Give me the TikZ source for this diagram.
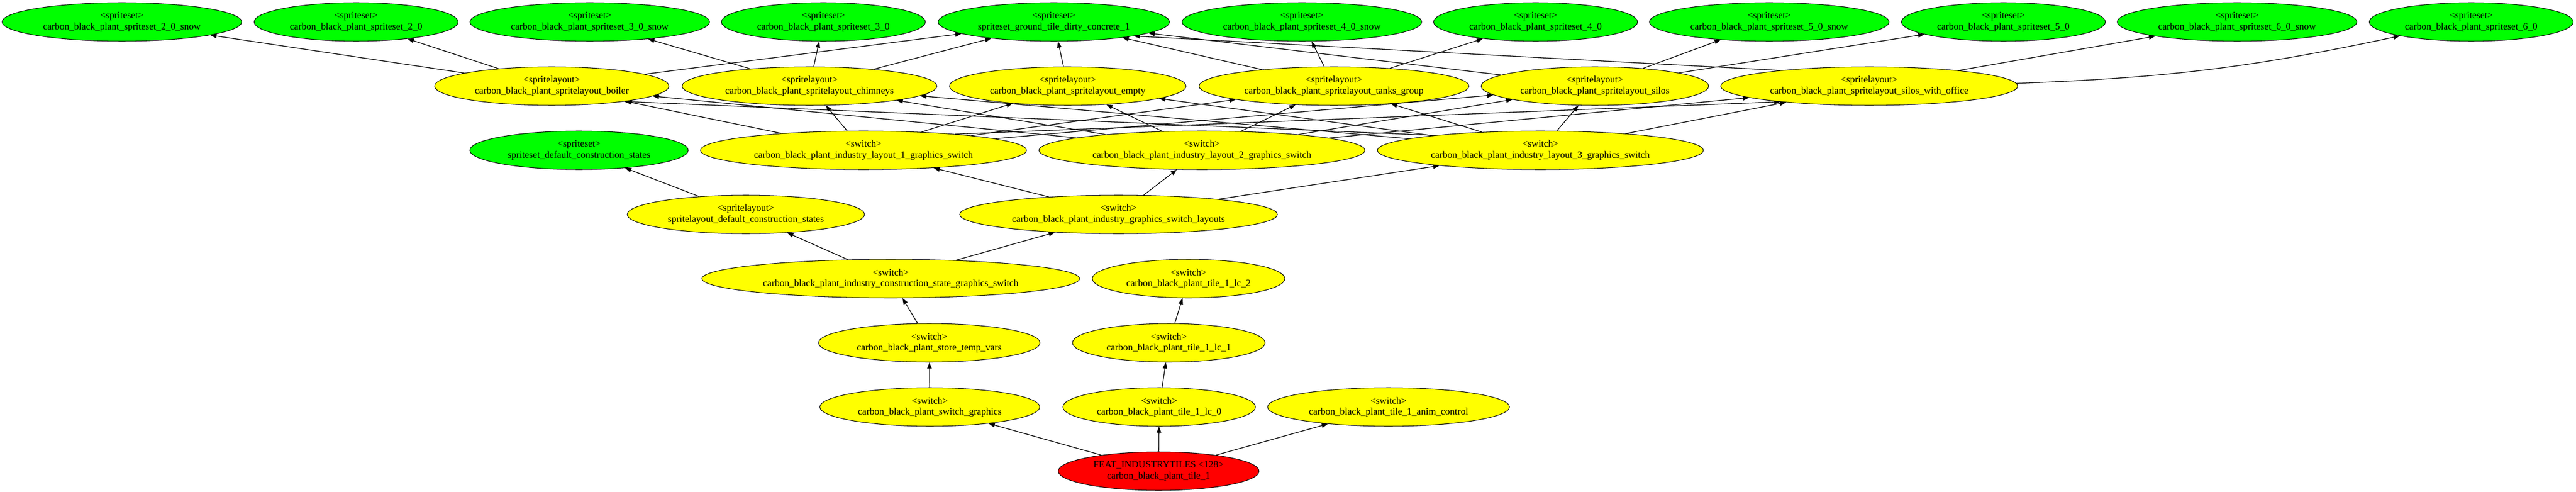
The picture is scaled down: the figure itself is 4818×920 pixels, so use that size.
\documentclass[tikz,border=0pt]{standalone}
\usepackage{fontspec}
\setmainfont{Liberation Serif}
\usetikzlibrary{arrows.meta}
\usetikzlibrary{shapes.geometric}
\usetikzlibrary{backgrounds}
\definecolor{setgreen}{RGB}{0,255,0}
\definecolor{switchyellow}{RGB}{255,255,0}
\definecolor{rootred}{RGB}{255,0,0}

\begin{document}
\begin{tikzpicture}[
  x=0.775pt, y=-0.775pt,
  > = {Triangle[length=9pt,width=6.5pt]},
  every node/.style = {ellipse,draw,line width=0.8pt,align=center,
    font=\fontsize{14}{16}\selectfont,inner xsep=8.5pt,inner ysep=1pt,minimum height=55.8pt},
  spritesetnode/.style = {fill=setgreen},
  switchnode/.style = {fill=switchyellow},
  rootnode/.style = {fill=rootred},
  link/.style = {->,line width=1pt}
  ]
	\useasboundingbox (0,0) rectangle (4818,920);

	% spritesets
	\node[spritesetnode] (ss20snow) at (228,41) {<spriteset>\\carbon\_black\_plant\_spriteset\_2\_0\_snow};
	\node[spritesetnode] (ss20) at (666,41) {<spriteset>\\carbon\_black\_plant\_spriteset\_2\_0};
	\node[spritesetnode] (ss30snow) at (1103,41) {<spriteset>\\carbon\_black\_plant\_spriteset\_3\_0\_snow};
	\node[spritesetnode] (ss30) at (1540,41) {<spriteset>\\carbon\_black\_plant\_spriteset\_3\_0};
	\node[spritesetnode] (ssconcrete) at (1971,41) {<spriteset>\\spriteset\_ground\_tile\_dirty\_concrete\_1};
	\node[spritesetnode] (ss40snow) at (2435,41) {<spriteset>\\carbon\_black\_plant\_spriteset\_4\_0\_snow};
	\node[spritesetnode] (ss40) at (2872,41) {<spriteset>\\carbon\_black\_plant\_spriteset\_4\_0};
	\node[spritesetnode] (ss50snow) at (3309,41) {<spriteset>\\carbon\_black\_plant\_spriteset\_5\_0\_snow};
	\node[spritesetnode] (ss50) at (3747,41) {<spriteset>\\carbon\_black\_plant\_spriteset\_5\_0};
	\node[spritesetnode] (ss60snow) at (4184,41) {<spriteset>\\carbon\_black\_plant\_spriteset\_6\_0\_snow};
	\node[spritesetnode] (ss60) at (4622,41) {<spriteset>\\carbon\_black\_plant\_spriteset\_6\_0};

	% spritelayouts
	\node[switchnode] (slboiler) at (1032,161) {<spritelayout>\\carbon\_black\_plant\_spritelayout\_boiler};
	\node[switchnode] (slchimneys) at (1514,161) {<spritelayout>\\carbon\_black\_plant\_spritelayout\_chimneys};
	\node[switchnode] (slempty) at (1997,161) {<spritelayout>\\carbon\_black\_plant\_spritelayout\_empty};
	\node[switchnode] (sltanks) at (2495,161) {<spritelayout>\\carbon\_black\_plant\_spritelayout\_tanks\_group};
	\node[switchnode] (slsilos) at (2983,161) {<spritelayout>\\carbon\_black\_plant\_spritelayout\_silos};
	\node[switchnode] (sloffice) at (3496,161) {<spritelayout>\\carbon\_black\_plant\_spritelayout\_silos\_with\_office};

	\node[spritesetnode] (ssdefault) at (1083,281) {<spriteset>\\spriteset\_default\_construction\_states};
	\node[switchnode] (lay1) at (1615,281) {<switch>\\carbon\_black\_plant\_industry\_layout\_1\_graphics\_switch};
	\node[switchnode] (lay2) at (2248,281) {<switch>\\carbon\_black\_plant\_industry\_layout\_2\_graphics\_switch};
	\node[switchnode] (lay3) at (2881,281) {<switch>\\carbon\_black\_plant\_industry\_layout\_3\_graphics\_switch};

	\node[switchnode] (sldefault) at (1395,401) {<spritelayout>\\spritelayout\_default\_construction\_states};
	\node[switchnode] (layouts) at (2092,401) {<switch>\\carbon\_black\_plant\_industry\_graphics\_switch\_layouts};

	\node[switchnode] (constr) at (1666,521) {<switch>\\carbon\_black\_plant\_industry\_construction\_state\_graphics\_switch};
	\node[switchnode] (lc2) at (2223,521) {<switch>\\carbon\_black\_plant\_tile\_1\_lc\_2};

	\node[switchnode] (tempvars) at (1738,641) {<switch>\\carbon\_black\_plant\_store\_temp\_vars};
	\node[switchnode] (lc1) at (2186,641) {<switch>\\carbon\_black\_plant\_tile\_1\_lc\_1};

	\node[switchnode] (graphics) at (1739,761) {<switch>\\carbon\_black\_plant\_switch\_graphics};
	\node[switchnode] (lc0) at (2168,761) {<switch>\\carbon\_black\_plant\_tile\_1\_lc\_0};
	\node[switchnode] (anim) at (2597,761) {<switch>\\carbon\_black\_plant\_tile\_1\_anim\_control};

	\node[rootnode] (tile) at (2167,881) {FEAT\_INDUSTRYTILES <128>\\carbon\_black\_plant\_tile\_1};

	\begin{scope}[on background layer]
	% spritelayouts to spritesets
	\draw[link] (slboiler) -- (ss20snow);
	\draw[link] (slboiler) -- (ss20);
	\draw[link] (slboiler) -- (ssconcrete);
	\draw[link] (slchimneys) -- (ss30snow);
	\draw[link] (slchimneys) -- (ss30);
	\draw[link] (slchimneys) -- (ssconcrete);
	\draw[link] (slempty) -- (ssconcrete);
	\draw[link] (sltanks) -- (ss40snow);
	\draw[link] (sltanks) -- (ss40);
	\draw[link] (sltanks) -- (ssconcrete);
	\draw[link] (slsilos) -- (ss50snow);
	\draw[link] (slsilos) -- (ss50);
	\draw[link] (slsilos) -- (ssconcrete);
	\draw[link] (sloffice) -- (ss60snow);
	\draw[link] (sloffice) to[bend right=5] (ss60);
	\draw[link] (sloffice.170) -- (ssconcrete.-10);

	% layout switches to spritelayouts
	\draw[link] (lay1) -- (slboiler);
	\draw[link] (lay1) -- (slchimneys);
	\draw[link] (lay1) -- (slempty);
	\draw[link] (lay1) -- (sltanks);
	\draw[link] (lay1) -- (slsilos);
	\draw[link] (lay1.10) -- (sloffice.190);
	\draw[link] (lay2) -- (slboiler);
	\draw[link] (lay2) -- (slchimneys);
	\draw[link] (lay2) -- (slempty);
	\draw[link] (lay2) -- (sltanks);
	\draw[link] (lay2) -- (slsilos);
	\draw[link] (lay2) -- (sloffice);
	\draw[link] (lay3.172) -- (slboiler.-12);
	\draw[link] (lay3) -- (slchimneys);
	\draw[link] (lay3) -- (slempty);
	\draw[link] (lay3) -- (sltanks);
	\draw[link] (lay3) -- (slsilos);
	\draw[link] (lay3) -- (sloffice);

	% switch chain
	\draw[link] (layouts) -- (lay1);
	\draw[link] (layouts) -- (lay2);
	\draw[link] (layouts) -- (lay3);
	\draw[link] (sldefault) -- (ssdefault);
	\draw[link] (constr) -- (sldefault);
	\draw[link] (constr) -- (layouts);
	\draw[link] (tempvars) -- (constr);
	\draw[link] (graphics) -- (tempvars);
	\draw[link] (lc1) -- (lc2);
	\draw[link] (lc0) -- (lc1);
	\draw[link] (tile) -- (graphics);
	\draw[link] (tile) -- (lc0);
	\draw[link] (tile) -- (anim);
	\end{scope}

\end{tikzpicture}
\end{document}
